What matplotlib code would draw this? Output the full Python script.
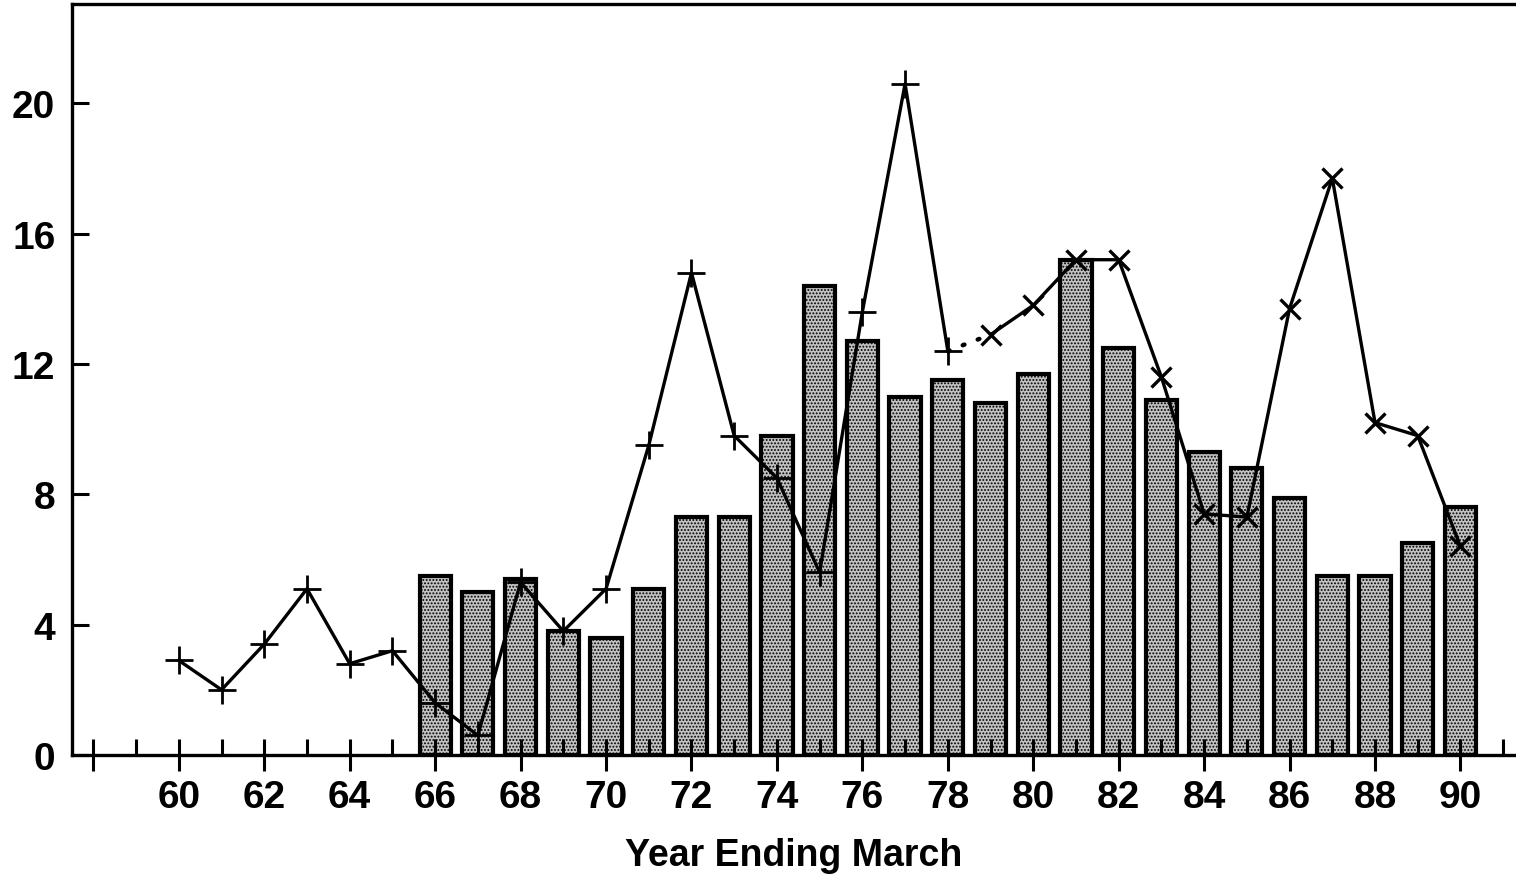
import matplotlib.pyplot as plt
from matplotlib.ticker import FixedLocator, NullFormatter

plt.rcParams['font.family'] = ['Liberation Sans', 'DejaVu Sans']
plt.rcParams['hatch.linewidth'] = 0.9

# bars: 1966-1990
bar_years = list(range(66, 91))
bar_vals = [5.5, 5.0, 5.4, 3.8, 3.6, 5.1, 7.3, 7.3, 9.8, 14.4,
            12.7, 11.0, 11.5, 10.8, 11.7, 15.2, 12.5, 10.9, 9.3, 8.8,
            7.9, 5.5, 5.5, 6.5, 7.6]

# "+" series: 1960-1978
plus_years = list(range(60, 79))
plus_vals = [2.9, 2.0, 3.4, 5.1, 2.8, 3.2, 1.6, 0.6, 5.3, 3.8,
             5.1, 9.5, 14.8, 9.8, 8.5, 5.6, 13.6, 20.6, 12.4]

# "x" series: 1979-1990
cross_years = list(range(79, 91))
cross_vals = [12.9, 13.8, 15.2, 15.2, 11.6, 7.4, 7.3, 13.7, 17.7, 10.2, 9.8, 6.4]

major_ticks = list(range(58, 91, 2))
minor_ticks = list(range(59, 92, 2))
x_labels = [str(y) for y in range(60, 91, 2)]
y_ticks = [0, 4, 8, 12, 16, 20]

fig = plt.figure(figsize=(15.16, 8.78), dpi=100)
ax = fig.add_axes([0.0475, 0.139, 0.9525, 0.855])
ax.set_axisbelow(False)

ax.bar(bar_years, bar_vals, width=0.73, facecolor='#c2c2c2', edgecolor='black',
       linewidth=3, hatch='.....', zorder=2)

ax.plot(plus_years, plus_vals, color='black', linewidth=2.4, marker='+',
        markersize=20, markeredgewidth=2, zorder=3)
ax.plot(cross_years, cross_vals, color='black', linewidth=2.4, marker='x',
        markersize=15, markeredgewidth=2.4, zorder=3)
# dotted link between the two series
ax.plot([plus_years[-1], cross_years[0]], [plus_vals[-1], cross_vals[0]],
        color='black', linewidth=3.2, linestyle=(0, (0.4, 3.2)),
        dash_capstyle='round', zorder=3)

ax.set_xlim(57.5, 91.3)
ax.set_ylim(0, 23.04)

ax.spines['right'].set_visible(False)
for s in ['left', 'bottom', 'top']:
    ax.spines[s].set_linewidth(2.4)

ax.xaxis.set_major_locator(FixedLocator(major_ticks))
ax.set_xticklabels([''] + x_labels)
ax.xaxis.set_minor_locator(FixedLocator(minor_ticks))
ax.xaxis.set_minor_formatter(NullFormatter())
ax.tick_params(axis='x', which='major', direction='inout', length=23, width=2.2,
               labelsize=28, pad=6)
ax.tick_params(axis='x', which='minor', direction='in', length=11.5, width=2.2)

ax.set_yticks(y_ticks)
ax.tick_params(axis='y', direction='in', length=12, width=2.2, labelsize=28, pad=12)

for lbl in ax.get_xticklabels() + ax.get_yticklabels():
    lbl.set_fontweight('bold')

ax.set_xlabel('Year Ending March', fontsize=27, fontweight='bold', labelpad=16)

fig.savefig('out.png', dpi=100)
